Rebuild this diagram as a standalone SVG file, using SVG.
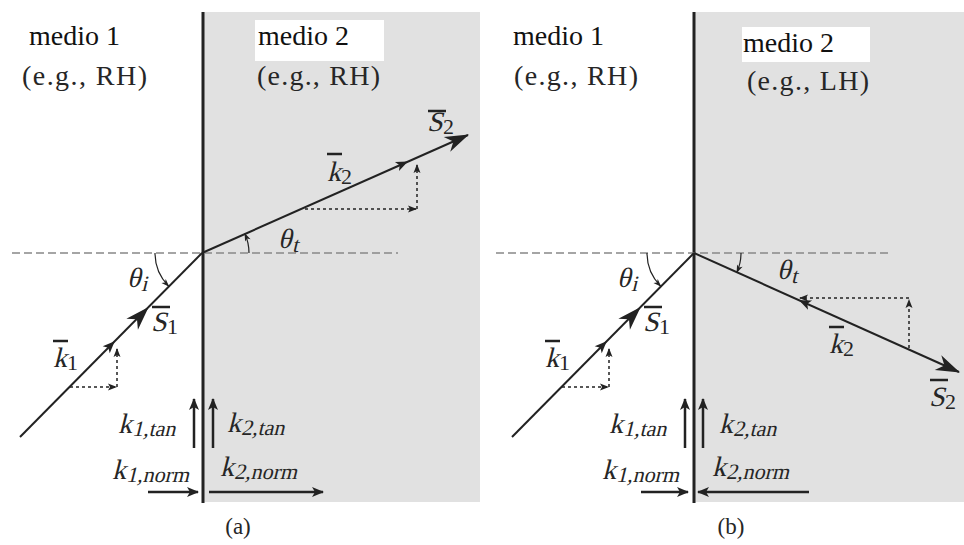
<svg xmlns="http://www.w3.org/2000/svg" width="964" height="545" viewBox="0 0 964 545">
<style>
.t{fill:#262626;font-size:28px;font-family:'Liberation Serif',serif}
.v{fill:#262626;font-size:28px;font-family:'Liberation Serif',serif}
.s{fill:#262626;font-size:22px;font-family:'Liberation Serif',serif}
.ln{stroke:#222;stroke-width:2;fill:none}
.bar{stroke:#222;stroke-width:2.5}
.if{stroke:#222;stroke-width:3}
.dash{stroke:#888;stroke-width:1.3;stroke-dasharray:8 4;fill:none}
.dot{stroke:#222;stroke-width:1.5;stroke-dasharray:3 3;fill:none}
.arc{stroke:#222;stroke-width:1.2;fill:none}
.sh{stroke:#222;stroke-width:2.5}
.seg{stroke:none;fill:none}
</style>
<defs>
<marker id="ak" viewBox="-12 -6 14 12" refX="0" refY="0" markerWidth="14" markerHeight="12" markerUnits="userSpaceOnUse" orient="auto"><path d="M1,0 L-11,-5 L-8,0 L-11,5 Z" fill="#222"/></marker>
<marker id="as" viewBox="-24 -10 26 20" refX="0" refY="0" markerWidth="26" markerHeight="20" markerUnits="userSpaceOnUse" orient="auto"><path d="M1,0 L-23,-8 L-16,0 L-23,8 Z" fill="#222"/></marker>
<marker id="ad" viewBox="-10 -5 12 10" refX="0" refY="0" markerWidth="12" markerHeight="10" markerUnits="userSpaceOnUse" orient="auto"><path d="M1,0 L-8,-3.5 L-6,0 L-8,3.5 Z" fill="#222"/></marker>
<marker id="aa" viewBox="-10 -5 12 10" refX="0" refY="0" markerWidth="12" markerHeight="10" markerUnits="userSpaceOnUse" orient="auto"><path d="M1,0 L-7,-3 L-5,0 L-7,3 Z" fill="#222"/></marker>
</defs>
<rect width="964" height="545" fill="#fff"/>
<g id="panel-a">
<g id="a-medium2"><rect x="203" y="12" width="277" height="490" fill="#e1e1e1"/><rect x="255" y="20" width="129" height="41" fill="#fff"/></g>
<g id="a-labels">
<text class="t" x="29" y="45" style="fill:#111">medio 1</text>
<text class="t" x="22" y="85" textLength="125" lengthAdjust="spacing">(e.g., RH)</text>
<text class="t" x="258" y="45" style="fill:#111">medio 2</text>
<text class="t" x="257" y="85" textLength="123" lengthAdjust="spacing">(e.g., RH)</text>
<text class="t" x="238" y="534" text-anchor="middle" style="font-size:23px">(a)</text>
</g>
<g id="a-interface"><line class="if" x1="203" y1="12" x2="203" y2="503"/><line class="dash" x1="12" y1="253" x2="398" y2="253"/></g>
<g id="a-connectors">
<line class="ln" x1="20" y1="437" x2="202" y2="253"/>
<line class="seg" x1="140" y1="316" x2="148" y2="307.6" marker-end="url(#as)"/>
<line class="seg" x1="107" y1="349" x2="114" y2="342" marker-end="url(#ak)"/>
<line class="dot" x1="70" y1="387" x2="116" y2="387" marker-end="url(#ad)"/>
<line class="dot" x1="117" y1="387" x2="117" y2="349" marker-end="url(#ad)"/>
<line class="ln" x1="202" y1="253" x2="468" y2="135" marker-end="url(#as)"/>
<line class="seg" x1="398" y1="166" x2="407" y2="162" marker-end="url(#ak)"/>
<line class="dot" x1="305" y1="209" x2="416" y2="209" marker-end="url(#ad)"/>
<line class="dot" x1="417" y1="209" x2="417" y2="165" marker-end="url(#ad)"/>
<path class="arc" d="M155,253 A47,47 0 0 0 168.5,286" marker-end="url(#aa)"/>
<path class="arc" d="M249,253 A47,47 0 0 0 245,234" marker-end="url(#aa)"/>
<line class="sh" x1="194" y1="448" x2="194" y2="399" marker-end="url(#ak)"/>
<line class="sh" x1="213" y1="448" x2="213" y2="399" marker-end="url(#ak)"/>
<line class="sh" x1="148" y1="492" x2="198" y2="492" marker-end="url(#ak)"/>
<line class="sh" x1="209" y1="492" x2="323" y2="492" marker-end="url(#ak)"/>
</g>
<g id="a-vec-labels">
<text class="v" transform="translate(53,367) skewX(-14)">k</text><text class="s" x="67" y="370">1</text><line class="bar" x1="53" y1="341" x2="68" y2="341"/>
<text class="v" transform="translate(151,331) skewX(-14)">S</text><text class="s" x="167" y="334">1</text><line class="bar" x1="152" y1="307" x2="170" y2="307"/>
<text class="v" transform="translate(327,181) skewX(-14)">k</text><text class="s" x="341" y="184">2</text><line class="bar" x1="327" y1="154" x2="342" y2="154"/>
<text class="v" transform="translate(427,131) skewX(-14)">S</text><text class="s" x="443" y="134">2</text><line class="bar" x1="428" y1="111" x2="446" y2="111"/>
<text class="v" transform="translate(127,287) skewX(-14)">θ</text><text class="s" transform="translate(141,291) skewX(-14)">i</text>
<text class="v" transform="translate(278,248) skewX(-14)">θ</text><text class="s" transform="translate(292,252) skewX(-14)">t</text>
<text class="v" transform="translate(118,433) skewX(-14)">k</text><text class="s" transform="translate(132,436) skewX(-14)">1,tan</text>
<text class="v" transform="translate(227,432) skewX(-14)">k</text><text class="s" transform="translate(241,435) skewX(-14)">2,tan</text>
<text class="v" transform="translate(112,479) skewX(-14)">k</text><text class="s" transform="translate(126,482) skewX(-14)">1,norm</text>
<text class="v" transform="translate(220,476) skewX(-14)">k</text><text class="s" transform="translate(234,479) skewX(-14)">2,norm</text>
</g>
</g>
<g id="panel-b">
<g id="b-medium2"><rect x="695" y="12" width="269" height="490" fill="#e1e1e1"/><rect x="742" y="27" width="128" height="35" fill="#fff"/></g>
<g id="b-labels">
<text class="t" x="513" y="45" style="fill:#111">medio 1</text>
<text class="t" x="514" y="85" textLength="124" lengthAdjust="spacing">(e.g., RH)</text>
<text class="t" x="743" y="52" style="fill:#111">medio 2</text>
<text class="t" x="747" y="90" textLength="122" lengthAdjust="spacing">(e.g., LH)</text>
<text class="t" x="731" y="534" text-anchor="middle" style="font-size:23px">(b)</text>
</g>
<g id="b-interface"><line class="if" x1="694" y1="12" x2="694" y2="503"/><line class="dash" x1="496" y1="253" x2="891" y2="253"/></g>
<g id="b-connectors">
<line class="ln" x1="512" y1="437" x2="694" y2="253"/>
<line class="seg" x1="632" y1="316" x2="640" y2="307.6" marker-end="url(#as)"/>
<line class="seg" x1="599" y1="349" x2="606" y2="342" marker-end="url(#ak)"/>
<line class="dot" x1="562" y1="387" x2="608" y2="387" marker-end="url(#ad)"/>
<line class="dot" x1="609" y1="387" x2="609" y2="349" marker-end="url(#ad)"/>
<line class="ln" x1="694" y1="253" x2="959" y2="372" marker-end="url(#as)"/>
<line class="seg" x1="809" y1="304.6" x2="800" y2="300.6" marker-end="url(#ak)"/>
<line class="dot" x1="909" y1="298" x2="800" y2="298" marker-end="url(#ad)"/>
<line class="dot" x1="909" y1="348" x2="909" y2="300" marker-end="url(#ad)"/>
<path class="arc" d="M647,253 A47,47 0 0 0 660.5,286" marker-end="url(#aa)"/>
<path class="arc" d="M741,253 A47,47 0 0 1 737,272" marker-end="url(#aa)"/>
<line class="sh" x1="685" y1="448" x2="685" y2="399" marker-end="url(#ak)"/>
<line class="sh" x1="703" y1="448" x2="703" y2="399" stroke-width="3.2" marker-end="url(#ak)"/>
<line class="sh" x1="641" y1="492" x2="688" y2="492" marker-end="url(#ak)"/>
<line class="sh" x1="809" y1="492" x2="698" y2="492" marker-end="url(#ak)"/>
</g>
<g id="b-vec-labels">
<text class="v" transform="translate(545,367) skewX(-14)">k</text><text class="s" x="559" y="370">1</text><line class="bar" x1="545" y1="341" x2="560" y2="341"/>
<text class="v" transform="translate(643,331) skewX(-14)">S</text><text class="s" x="659" y="334">1</text><line class="bar" x1="644" y1="307" x2="662" y2="307"/>
<text class="v" transform="translate(829,353) skewX(-14)">k</text><text class="s" x="843" y="356">2</text><line class="bar" x1="829" y1="327" x2="844" y2="327"/>
<text class="v" transform="translate(929,406) skewX(-14)">S</text><text class="s" x="945" y="409">2</text><line class="bar" x1="930" y1="380" x2="948" y2="380"/>
<text class="v" transform="translate(617,287) skewX(-14)">θ</text><text class="s" transform="translate(631,291) skewX(-14)">i</text>
<text class="v" transform="translate(777,279) skewX(-14)">θ</text><text class="s" transform="translate(791,283) skewX(-14)">t</text>
<text class="v" transform="translate(609,433) skewX(-14)">k</text><text class="s" transform="translate(623,436) skewX(-14)">1,tan</text>
<text class="v" transform="translate(719,433) skewX(-14)">k</text><text class="s" transform="translate(733,436) skewX(-14)">2,tan</text>
<text class="v" transform="translate(602,479) skewX(-14)">k</text><text class="s" transform="translate(616,482) skewX(-14)">1,norm</text>
<text class="v" transform="translate(712,476) skewX(-14)">k</text><text class="s" transform="translate(726,479) skewX(-14)">2,norm</text>
</g>
</g>
</svg>
